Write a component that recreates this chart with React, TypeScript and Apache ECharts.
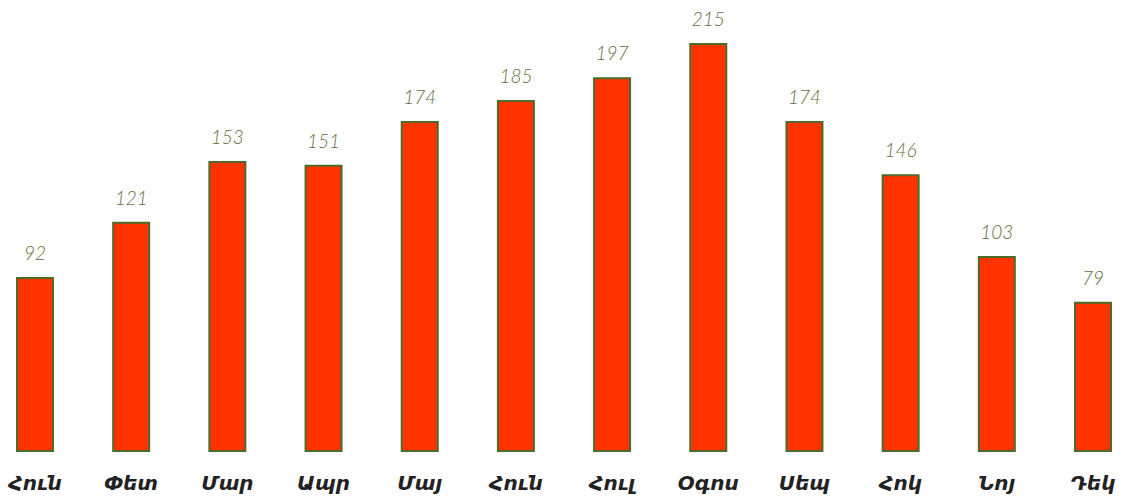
import React, { useEffect, useRef } from "react";
import * as echarts from "echarts";

const months = ["Հուն", "Փետ", "Մար", "Ապր", "Մայ", "Հուն", "Հուլ", "Օգոս", "Սեպ", "Հոկ", "Նոյ", "Դեկ"];
const values = [92, 121, 153, 151, 174, 185, 197, 215, 174, 146, 103, 79];

export default function App() {
  const ref = useRef<HTMLDivElement>(null);
  useEffect(() => {
    document.body.style.margin = "0";
    document.body.style.overflow = "hidden";
    const chart = echarts.init(ref.current!, null, { renderer: "svg" });
    chart.setOption({
      animation: false,
      grid: { left: 35, right: 31, top: 43, bottom: 44 },
      xAxis: {
        type: "category",
        boundaryGap: false,
        data: months,
        axisLine: { show: false },
        axisTick: { show: false },
        axisLabel: {
          margin: 20,
          fontFamily: "DejaVu Sans",
          fontWeight: "bold",
          fontStyle: "italic",
          fontSize: 20,
          lineHeight: 22,
          color: "#222",
        },
      },
      yAxis: { type: "value", min: 0, max: 215, show: false, splitLine: { show: false } },
      series: [
        {
          type: "bar",
          data: values,
          barWidth: 38,
          clip: false,
          itemStyle: { color: "#FF3300", borderColor: "#4F6B2A", borderWidth: 2 },
          label: {
            show: true,
            position: "top",
            distance: 15,
            fontFamily: "Lato",
            fontWeight: 300,
            fontStyle: "italic",
            fontSize: 19,
            color: "#5F7140",
          },
        },
      ],
    });
    return () => chart.dispose();
  }, []);
  return <div ref={ref} style={{ width: 1124, height: 496 }} />;
}
